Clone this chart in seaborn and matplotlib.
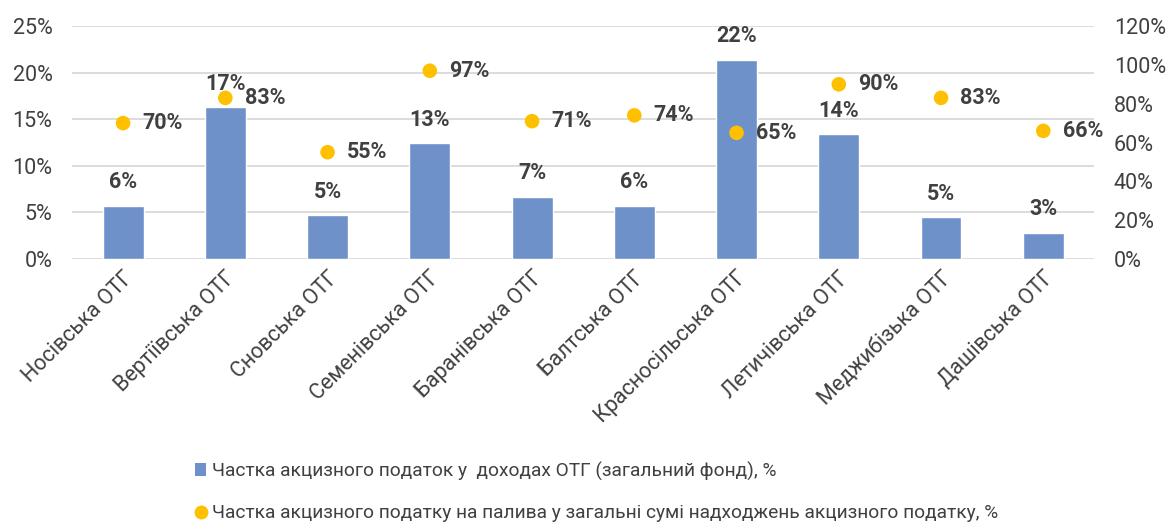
import matplotlib
matplotlib.use("Agg")
import matplotlib.pyplot as plt
import seaborn as sns
import pandas as pd
from matplotlib.ticker import PercentFormatter
from matplotlib.lines import Line2D
from matplotlib.patches import Patch

# Data
communities = ["Носівська ОТГ", "Вертіївська ОТГ", "Сновська ОТГ", "Семенівська ОТГ",
               "Баранівська ОТГ", "Балтська ОТГ", "Красносільська ОТГ", "Летичівська ОТГ",
               "Меджибізька ОТГ", "Дашівська ОТГ"]
excise_share = [5.7, 16.3, 4.7, 12.4, 6.7, 5.7, 21.4, 13.4, 4.5, 2.8]
fuel_share = [70, 83, 55, 97, 71, 74, 65, 90, 83, 66]
bar_labels = ["6%", "17%", "5%", "13%", "7%", "6%", "22%", "14%", "5%", "3%"]
dot_labels = ["70%", "83%", "55%", "97%", "71%", "74%", "65%", "90%", "83%", "66%"]

legend_bar = "Частка акцизного податок у  доходах ОТГ (загальний фонд), %"
legend_dot = "Частка акцизного податку на палива у загальні сумі надходжень акцизного податку, %"

sns.set_style("white")
plt.rcParams['font.family'] = ['Roboto', 'DejaVu Sans']

BAR_COLOR = "#6F91CA"
DOT_COLOR = "#FFC000"
TEXT_COLOR = "#404040"
GRID_COLOR = "#D9D9D9"
FS = 15.5

df = pd.DataFrame({"community": communities, "excise": excise_share, "fuel": fuel_share})

fig = plt.figure(figsize=(11.68, 5.22), dpi=100)
ax = fig.add_axes([0.0616, 0.504, 0.8754, 0.446])

sns.barplot(data=df, x="community", y="excise", color=BAR_COLOR, width=0.4,
            saturation=1, ax=ax, zorder=2)
ax.set_ylim(0, 25)
ax.set_yticks(range(0, 26, 5))
ax.yaxis.set_major_formatter(PercentFormatter(decimals=0))
ax.set_xlim(-0.5, len(communities) - 0.5)
ax.grid(axis="y", color=GRID_COLOR, linewidth=1.3, zorder=0)
ax.set_axisbelow(True)
for s in ax.spines.values():
    s.set_visible(False)
ax.set_xlabel("")
ax.set_ylabel("")
ax.tick_params(axis="y", length=0, labelsize=FS, labelcolor=TEXT_COLOR, pad=14)
ax.tick_params(axis="x", length=0, labelsize=FS, labelcolor=TEXT_COLOR, pad=6)
plt.setp(ax.get_xticklabels(), rotation=45, ha="right", va="top", rotation_mode="anchor")

for i, (v, lab) in enumerate(zip(excise_share, bar_labels)):
    ax.annotate(lab, (i, v), xytext=(0, 9), textcoords="offset points",
                ha="center", va="bottom", fontsize=FS, fontweight="bold", color=TEXT_COLOR)

ax2 = ax.twinx()
sns.scatterplot(data=df, x="community", y="fuel", color=DOT_COLOR, s=110,
                edgecolor="none", ax=ax2, zorder=3)
ax2.set_ylim(0, 120)
ax2.set_yticks(range(0, 121, 20))
ax2.yaxis.set_major_formatter(PercentFormatter(decimals=0))
for s in ax2.spines.values():
    s.set_visible(False)
ax2.set_ylabel("")
ax2.tick_params(axis="y", length=0, labelsize=FS, labelcolor=TEXT_COLOR, pad=14)

for i, (v, lab) in enumerate(zip(fuel_share, dot_labels)):
    ax2.annotate(lab, (i, v), xytext=(14, 0), textcoords="offset points",
                 ha="left", va="center", fontsize=FS, fontweight="bold", color=TEXT_COLOR)

handles = [Patch(facecolor=BAR_COLOR, edgecolor="none"),
           Line2D([], [], marker="o", linestyle="none", markerfacecolor=DOT_COLOR,
                  markeredgecolor="none", markersize=10)]
fig.legend(handles, [legend_bar, legend_dot], loc="lower left",
           bbox_to_anchor=(0.152, -0.034), frameon=False,
           labelcolor=TEXT_COLOR, handlelength=0.6, handletextpad=0.3,
           labelspacing=1.25, prop={"family": ["Roboto", "DejaVu Sans"], "size": 13.8})

fig.savefig("out.png", dpi=100)
